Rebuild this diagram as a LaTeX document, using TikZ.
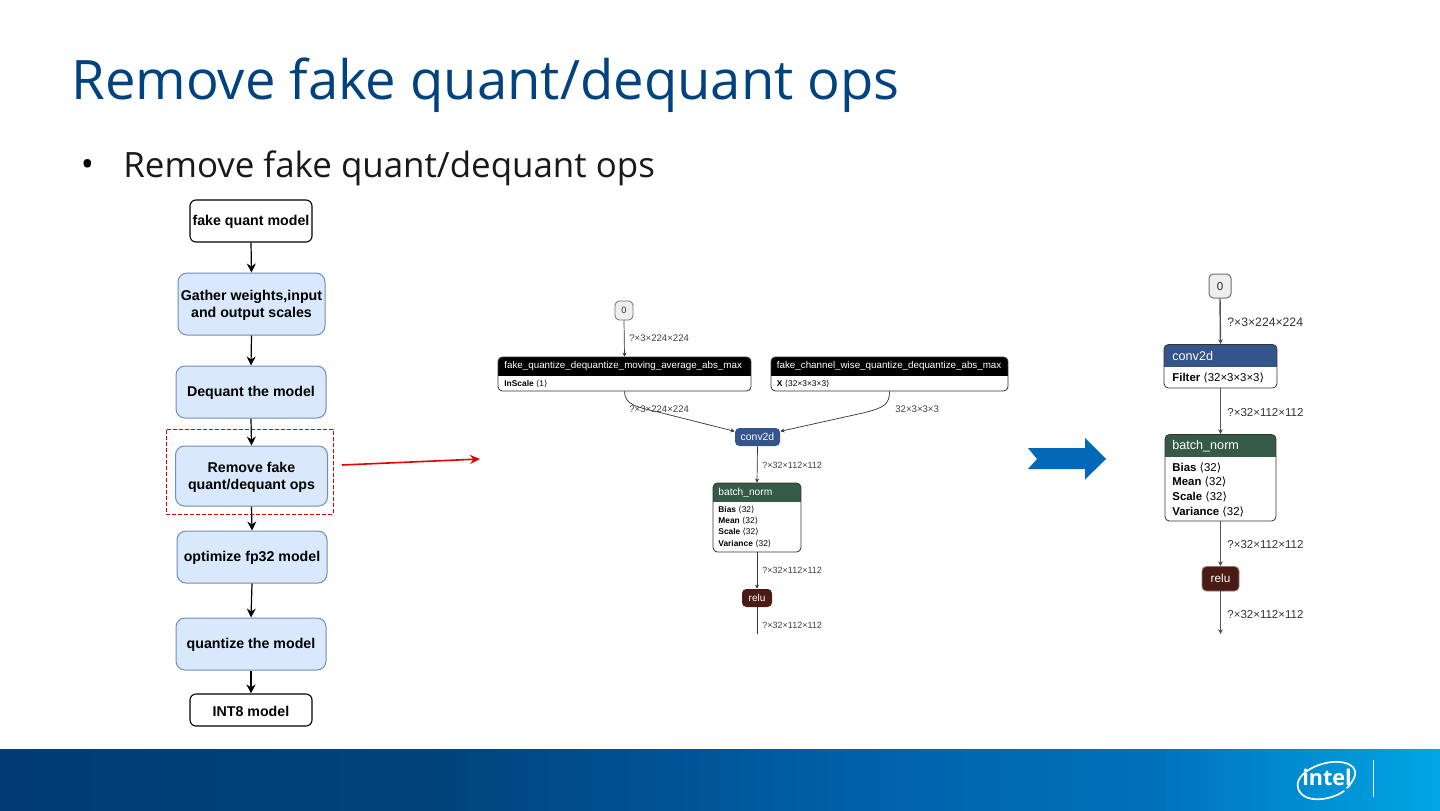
\documentclass[tikz,border=0pt]{standalone}
\usepackage{fontspec}
\setmainfont{Liberation Sans}
\newfontfamily\opensans{Open Sans}
\newfontfamily\djv{DejaVu Sans}
\usetikzlibrary{arrows.meta,calc}
\definecolor{titleblue}{HTML}{00437F}
\definecolor{flowfill}{HTML}{DAE8FC}
\definecolor{flowline}{HTML}{6C8EBF}
\definecolor{convblue}{HTML}{33558C}
\definecolor{bngreen}{HTML}{355A46}
\definecolor{reludark}{HTML}{4A1A14}
\definecolor{zerofill}{HTML}{EEEEEE}
\definecolor{gline}{HTML}{333333}
\definecolor{bigarrow}{HTML}{0068B5}
\definecolor{footA}{HTML}{003C71}
\definecolor{footB}{HTML}{00437B}
\definecolor{footC}{HTML}{0061AA}
\definecolor{footD}{HTML}{0071BC}
\definecolor{footE}{HTML}{00A6E3}
\pgfdeclarehorizontalshading{footshade}{100bp}{color(0bp)=(footA); color(25bp)=(footA); color(40bp)=(footB); color(55bp)=(footC); color(65bp)=(footD); color(75bp)=(footE); color(100bp)=(footE)}
\tikzset{
  flowtext/.style={font=\fontsize{7.1}{8.5}\selectfont\bfseries,align=center,inner sep=0pt,text=black,yshift=-0.6pt},
  flowbox/.style={draw=flowline,fill=flowfill,line width=0.5pt,rounded corners=4.5pt,inner sep=0pt},
  endbox/.style={draw=black,fill=white,line width=0.55pt,rounded corners=3pt,inner sep=0pt},
  flowarrow/.style={draw=black,line width=0.6pt,-{Stealth[length=4.5pt,width=4.5pt]}},
  hiliteframe/.style={draw=red!85!black,dash pattern=on 2pt off 1pt,line width=0.5pt},
  redarrow/.style={draw=red!90!black,line width=0.8pt,-{Stealth[length=5pt,width=4.5pt]}},
  medge/.style={draw=gline,line width=0.35pt,-{Stealth[length=2pt,width=2pt]}},
  medgeplain/.style={draw=gline,line width=0.35pt},
  redge/.style={draw=gline!85,line width=0.7pt,-{Stealth[length=2.4pt,width=2.4pt]}},
  mlabel/.style={font=\fontsize{4.8}{5}\selectfont,anchor=west,inner sep=0pt,text=black!75},
  mlabelw/.style={font=\fontsize{4.5}{5}\selectfont,anchor=west,inner sep=0pt,text=black!75},
  rlabel/.style={font=\fontsize{6.1}{7}\selectfont,anchor=west,inner sep=0pt,text=black!80},
  rlabelw/.style={font=\fontsize{5.75}{7}\selectfont,anchor=west,inner sep=0pt,text=black!80},
  mhead/.style={font=\fontsize{4.9}{5}\selectfont,anchor=west,inner sep=0pt,text=white},
  rhead/.style={font=\fontsize{6.3}{7}\selectfont,anchor=west,inner sep=0pt,text=white},
  mattr/.style={font=\fontsize{4.2}{5}\selectfont,anchor=west,inner sep=0pt,text=black},
  rattr/.style={font=\fontsize{5.7}{6}\selectfont,anchor=west,inner sep=0pt,text=black},
  opbox/.style={rounded corners=2.2pt,inner sep=0pt},
}
\newcommand{\plainbox}[7]{\node[#1,minimum width={(#5-#3)*0.5pt},minimum height={(#6-#4)*0.5pt}] (#2) at ({(#3+#5)/2},{(#4+#6)/2}) {#7};}
\newcommand{\flowstep}[7]{\plainbox{#1}{#2}{#3}{#4}{#5}{#6}{}\node[flowtext] (#2t) at (#2.center) {#7};}
% \hdrbox{name}{x1}{y1}{x2}{ymid}{y2}{colour}{border}
\newcommand{\hdrbox}[8]{%
  \begin{scope}
    \clip[rounded corners=2.2pt] (#2,#3) rectangle (#4,#6);
    \fill[white] (#2,#3) rectangle (#4,#6);
    \fill[#7] (#2,#3) rectangle (#4,#5);
  \end{scope}
  \node[opbox,draw=#8,minimum width={(#4-#2)*0.5pt},minimum height={(#6-#3)*0.5pt}] (#1) at ({(#2+#4)/2},{(#3+#6)/2}) {};}
\newcommand{\ang}[1]{{\djv ⟨}#1{\djv ⟩}}
\begin{document}
\begin{tikzpicture}[x=0.5pt,y=-0.5pt]
\useasboundingbox (0,0) rectangle (1440,810);
\fill[white] (0,0) rectangle (1440,810);
% footer
\shade[shading=footshade] (0,749) rectangle (1440,810);
% title
\node[anchor=west,inner sep=0pt,text=titleblue,font=\opensans\fontsize{27.2}{30}\selectfont] (title) at (71,85.5) {Remove fake quant/dequant ops};
\node[inner sep=0pt,font=\opensans\fontsize{17.45}{20}\selectfont] (bullet) at (87.5,168) {•};
\node[anchor=west,inner sep=0pt,text=black!90,font=\opensans\fontsize{17.45}{20}\selectfont] (sub) at (123,168) {Remove fake quant/dequant ops};
% flow chart
\flowstep{endbox}{f1}{190}{200}{312}{242}{fake quant model}
\flowstep{flowbox}{f2}{178}{273}{325}{335}{Gather weights,input\\and output scales}
\flowstep{flowbox}{f3}{176}{366}{326}{418}{Dequant the model}
\flowstep{flowbox}{f4}{175.5}{446}{327.5}{506}{Remove fake\\quant/dequant ops}
\flowstep{flowbox}{f5}{177}{531}{327}{583}{optimize fp32 model}
\flowstep{flowbox}{f6}{176}{618}{326}{670}{quantize the model}
\flowstep{endbox}{f7}{190}{694}{312}{726}{INT8 model}
\draw[flowarrow] (f1.south) -- (f2.north);
\draw[flowarrow] (f2.south) -- (f3.north);
\draw[flowarrow] (f3.south) -- (f4.north);
\draw[flowarrow] (f4.south) -- (f5.north);
\draw[flowarrow] (f5.south) -- (f6.north);
\draw[flowarrow] (f6.south) -- (f7.north);
\node[hiliteframe,inner sep=0pt,minimum width={167*0.5pt},minimum height={85*0.5pt}] (frame) at (249.5,471.5) {};
\coordinate (redstart) at (342,465);
\coordinate (redend) at (480,459);
\draw[redarrow] (redstart) -- (redend);
% middle graph
\plainbox{opbox,draw=gline!70,fill=zerofill,font=\fontsize{4.6}{5}\selectfont,text=black!80}{mzero}{615}{301}{633}{320}{0}
\hdrbox{fq}{498}{357}{751}{376}{391}{black}{gline}
\node[mhead] (fqt) at (504,366) {fake\_quantize\_dequantize\_moving\_average\_abs\_max};
\node[mattr] (fqa) at (504,383.5) {\textbf{InScale} \ang{1}};
\hdrbox{fc}{771}{357}{1008}{376}{391}{black}{gline}
\node[mhead] (fct) at (776.5,366) {fake\_channel\_wise\_quantize\_dequantize\_abs\_max};
\node[mattr] (fca) at (776.5,383.5) {\textbf{X} \ang{32×3×3×3}};
\plainbox{opbox,fill=convblue,text=white,font=\fontsize{5.2}{6}\selectfont}{mconv}{735}{428}{780}{446}{conv2d}
\hdrbox{mbn}{713}{483}{801}{502}{552}{bngreen}{gline}
\node[mhead,font=\fontsize{5.1}{6}\selectfont] (mbnt) at (718,492.5) {batch\_norm};
\node[mattr] (mb1) at (718,510) {\textbf{Bias} \ang{32}};
\node[mattr] (mb2) at (718,521) {\textbf{Mean} \ang{32}};
\node[mattr] (mb3) at (718,532) {\textbf{Scale} \ang{32}};
\node[mattr] (mb4) at (718,543.5) {\textbf{Variance} \ang{32}};
\plainbox{opbox,fill=reludark,text=white,font=\fontsize{5}{6}\selectfont}{mrelu}{742}{589}{772}{607}{relu}
\coordinate (mend) at (757,634);
\coordinate (fqjoin) at (660,412.5);
\coordinate (fcjoin) at (865,412.5);
\draw[medge] (mzero.south) -- (fq.north);
\draw[medge] (fq.south) .. controls +(0,14) and (638,407) .. (fqjoin) -- (mconv.166);
\draw[medge] (fc.south) .. controls +(0,13) and (884,407.5) .. (fcjoin) -- (mconv.14);
\draw[medge] (mconv.south) -- (mbn.north);
\draw[medge] (mbn.south) -- (mrelu.north);
\draw[medgeplain] (mrelu.south) -- (mend);
\node[mlabel] (ml1) at (629,338) {?×3×224×224};
\node[mlabel] (ml2) at (629,409.5) {?×3×224×224};
\node[mlabel] (ml3) at (895,409.5) {32×3×3×3};
\node[mlabelw] (ml4) at (762,465) {?×32×112×112};
\node[mlabelw] (ml5) at (762,570.5) {?×32×112×112};
\node[mlabelw] (ml6) at (762,625) {?×32×112×112};
% big arrow
\fill[bigarrow] (1028,448) -- (1085,448) -- (1085,438) -- (1106,459) -- (1085,479.5) -- (1085,469) -- (1028,469) -- (1037,459) -- cycle;
% right graph
\plainbox{opbox,draw=gline!70,fill=zerofill,font=\fontsize{5.8}{6}\selectfont,text=black!85,line width=0.5pt}{rzero}{1209}{274}{1231}{298}{0}
\hdrbox{rconv}{1164}{344.5}{1277}{367}{388}{convblue}{gline}
\node[rhead] (rconvt) at (1172,356) {conv2d};
\node[rattr] (rconva) at (1172,377.5) {\textbf{Filter} \ang{32×3×3×3}};
\hdrbox{rbn}{1165}{434.5}{1276}{457}{521}{bngreen}{gline}
\node[rhead] (rbnt) at (1172,446) {batch\_norm};
\node[rattr] (rb1) at (1172,467.5) {\textbf{Bias} \ang{32}};
\node[rattr] (rb2) at (1172,482) {\textbf{Mean} \ang{32}};
\node[rattr] (rb3) at (1172,496.5) {\textbf{Scale} \ang{32}};
\node[rattr] (rb4) at (1172,511.5) {\textbf{Variance} \ang{32}};
\plainbox{opbox,fill=reludark,draw=reludark!60,text=white,font=\fontsize{5.9}{6}\selectfont,line width=0.4pt}{rrelu}{1202}{566.5}{1239}{591}{relu}
\coordinate (rend) at (1220.5,634);
\draw[redge] (rzero.south) -- (rconv.north);
\draw[redge] (rconv.south) -- (rbn.north);
\draw[redge] (rbn.south) -- (rrelu.north);
\draw[redge] (rrelu.south) -- (rend);
\node[rlabel] (rl1) at (1227,322.5) {?×3×224×224};
\node[rlabelw] (rl2) at (1227,412.5) {?×32×112×112};
\node[rlabelw] (rl3) at (1227,544.5) {?×32×112×112};
\node[rlabelw] (rl4) at (1227,614.5) {?×32×112×112};
% intel logo
\node[inner sep=0pt,text=white,font=\opensans\fontsize{10.8}{12}\selectfont\bfseries] (intel) at (1327,777) {intel};
\draw[white,line width=0.85pt,line cap=round] (1344,791) .. controls (1328,802) and (1302,803) .. (1298,788) .. controls (1294,773) and (1322,760) .. (1340,762) .. controls (1352,763) and (1358,770) .. (1354,778) .. controls (1352,782) and (1350,785) .. (1347,788);
\coordinate (divtop) at (1373,760);
\coordinate (divbot) at (1373,797);
\draw[white,line width=0.4pt] (divtop) -- (divbot);
\end{tikzpicture}
\end{document}
